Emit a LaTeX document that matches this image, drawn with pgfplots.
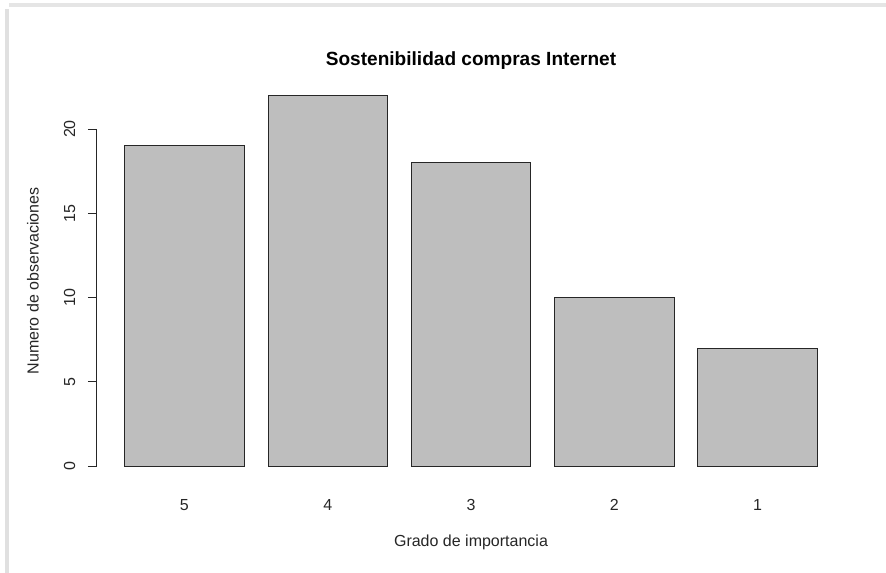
\documentclass[border=0pt]{standalone}
\usepackage{pgfplots}
\pgfplotsset{compat=1.18}
\usepackage{fontspec}
\setmainfont{Liberation Sans}
\definecolor{rgray}{RGB}{190,190,190}
\begin{document}
\begin{tikzpicture}
\path[use as bounding box] (-72.75pt,-69pt) rectangle (591.75pt,360.75pt);
\draw[black!12, line width=3pt] (-67.5pt,354pt) -- (-67.5pt,-69pt);
\draw[black!10, line width=3pt] (-66pt,357pt) -- (591.75pt,357pt);
\begin{axis}[
  at={(0pt,0pt)}, anchor=south west,
  scale only axis,
  width=561pt, height=300.4pt,
  xmin=-0.032, xmax=6.232,
  ymin=-0.88, ymax=22.88,
  axis x line*=bottom,
  axis y line*=left,
  x axis line style={draw=none},
  y axis line style={draw=none},
  axis line style={-},
  xtick={0.7,1.9,3.1,4.3,5.5},
  xticklabels={5,4,3,2,1},
  xtick style={draw=none},
  ytick={0,5,10,15,20},
  tick align=outside,
  major tick length=6.75pt,
  ytick style={black!85, line width=0.75pt},
  /pgf/number format/assume math mode=true,
  tick label style={font=\fontsize{12}{14}\selectfont, text=black!85},
  yticklabel style={rotate=90, anchor=south},
  yticklabel shift=6pt,
  xticklabel shift=3.5pt,
  title={Sostenibilidad compras Internet},
  title style={font=\fontsize{14.3}{17}\selectfont\bfseries, at={(axis description cs:0.5,1.0285)}, anchor=center},
  xlabel={Grado de importancia},
  ylabel={Numero de observaciones},
  xlabel style={font=\fontsize{12}{14}\selectfont, text=black!85, at={(axis description cs:0.5,-0.152)}, anchor=center},
  ylabel style={font=\fontsize{12}{14}\selectfont, text=black!85, at={(axis description cs:-0.0856,0.5)}, anchor=center, rotate=0},
  clip=false,
]
\draw[black!85, line width=0.75pt] (axis cs:-0.032,0) -- (axis cs:-0.032,20);
\addplot[ybar, bar width=1, fill=rgray, draw=black!85, line width=0.75pt] coordinates {
  (0.7,19) (1.9,22) (3.1,18) (4.3,10) (5.5,7)
};
\end{axis}
\end{tikzpicture}
\end{document}
